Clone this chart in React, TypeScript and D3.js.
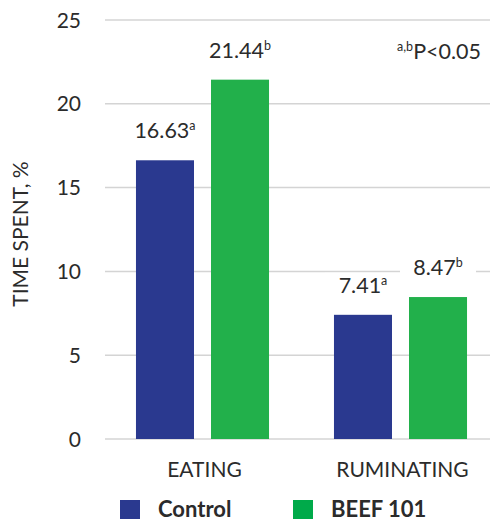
import React from "react";
import * as d3 from "d3";

const categories = ["EATING", "RUMINATING"];
const seriesNames = ["Control", "BEEF 101"];
const controlValues = [16.63, 7.41];
const beefValues = [21.44, 8.47];
const controlSup = ["a", "a"];
const beefSup = ["b", "b"];
const yTicks = [0, 5, 10, 15, 20, 25];

const W = 493;
const H = 524;
const FONT = "Lato, 'Noto Sans', sans-serif";
const TXT = "#2b2b2b";
const colors = ["#2a398f", "#22b04b"];
const legendColors = ["#2a398f", "#00aa4a"];

export default function App() {
  const y = d3.scaleLinear().domain([0, 25]).range([439, 20]);
  const x0 = d3
    .scaleBand()
    .domain(categories)
    .range([103.5, 499.5])
    .paddingInner(0.328)
    .paddingOuter(0.164);
  const x1 = d3
    .scaleBand()
    .domain(seriesNames)
    .range([0, x0.bandwidth()])
    .paddingInner(17 / 75)
    .paddingOuter(0);

  const series = [
    { name: seriesNames[0], values: controlValues, sups: controlSup, color: colors[0] },
    { name: seriesNames[1], values: beefValues, sups: beefSup, color: colors[1] },
  ];

  return (
    <svg
      width={W}
      height={H}
      style={{ position: "absolute", left: 0, top: 0, background: "#fff" }}
      fontFamily={FONT}
    >
      {yTicks.map((t) => (
        <g key={t}>
          <line x1={105} x2={490} y1={y(t)} y2={y(t)} stroke="#d4d4d4" strokeWidth={1.5} />
          <text x={81} y={y(t)} dy="0.36em" textAnchor="end" fontSize={21} fill={TXT}>
            {t}
          </text>
        </g>
      ))}
      <text
        transform={`translate(28,234) rotate(-90)`}
        textAnchor="middle"
        fontSize={21}
        fill={TXT}
      >
        TIME SPENT, %
      </text>
      {series.map((s) =>
        categories.map((c, i) => {
          const bx = (x0(c) as number) + (x1(s.name) as number);
          const bw = x1.bandwidth();
          const top = y(s.values[i]);
          const cx = bx + bw / 2;
          return (
            <g key={s.name + c}>
              <rect x={bx} y={top} width={bw} height={y(0) - top} fill={s.color} />
              <rect x={cx - 38} y={top - 42} width={76} height={28} fill="#fff" />
              <text x={cx} y={top - 22} textAnchor="middle" fontSize={21.5} fill={TXT}>
                {s.values[i].toFixed(2)}
                <tspan fontSize={12.5} dy={-8}>
                  {s.sups[i]}
                </tspan>
              </text>
            </g>
          );
        })
      )}
      {categories.map((c) => (
        <text
          key={c}
          x={(x0(c) as number) + x0.bandwidth() / 2 + 2}
          y={477}
          textAnchor="middle"
          fontSize={21}
          fill={TXT}
        >
          {c}
        </text>
      ))}
      <text x={481} y={59} textAnchor="end" fontSize={21.5} fill={TXT}>
        <tspan fontSize={12.5} dy={-8}>a,b</tspan>
        <tspan dy={8}>P&lt;0.05</tspan>
      </text>
      {seriesNames.map((n, i) => {
        const lx = [120, 293][i];
        return (
          <g key={n}>
            <rect x={lx} y={500} width={20} height={19} fill={legendColors[i]} />
            <text x={lx + 38} y={517} fontSize={22} fontWeight="bold" fill={TXT}>
              {n}
            </text>
          </g>
        );
      })}
    </svg>
  );
}
